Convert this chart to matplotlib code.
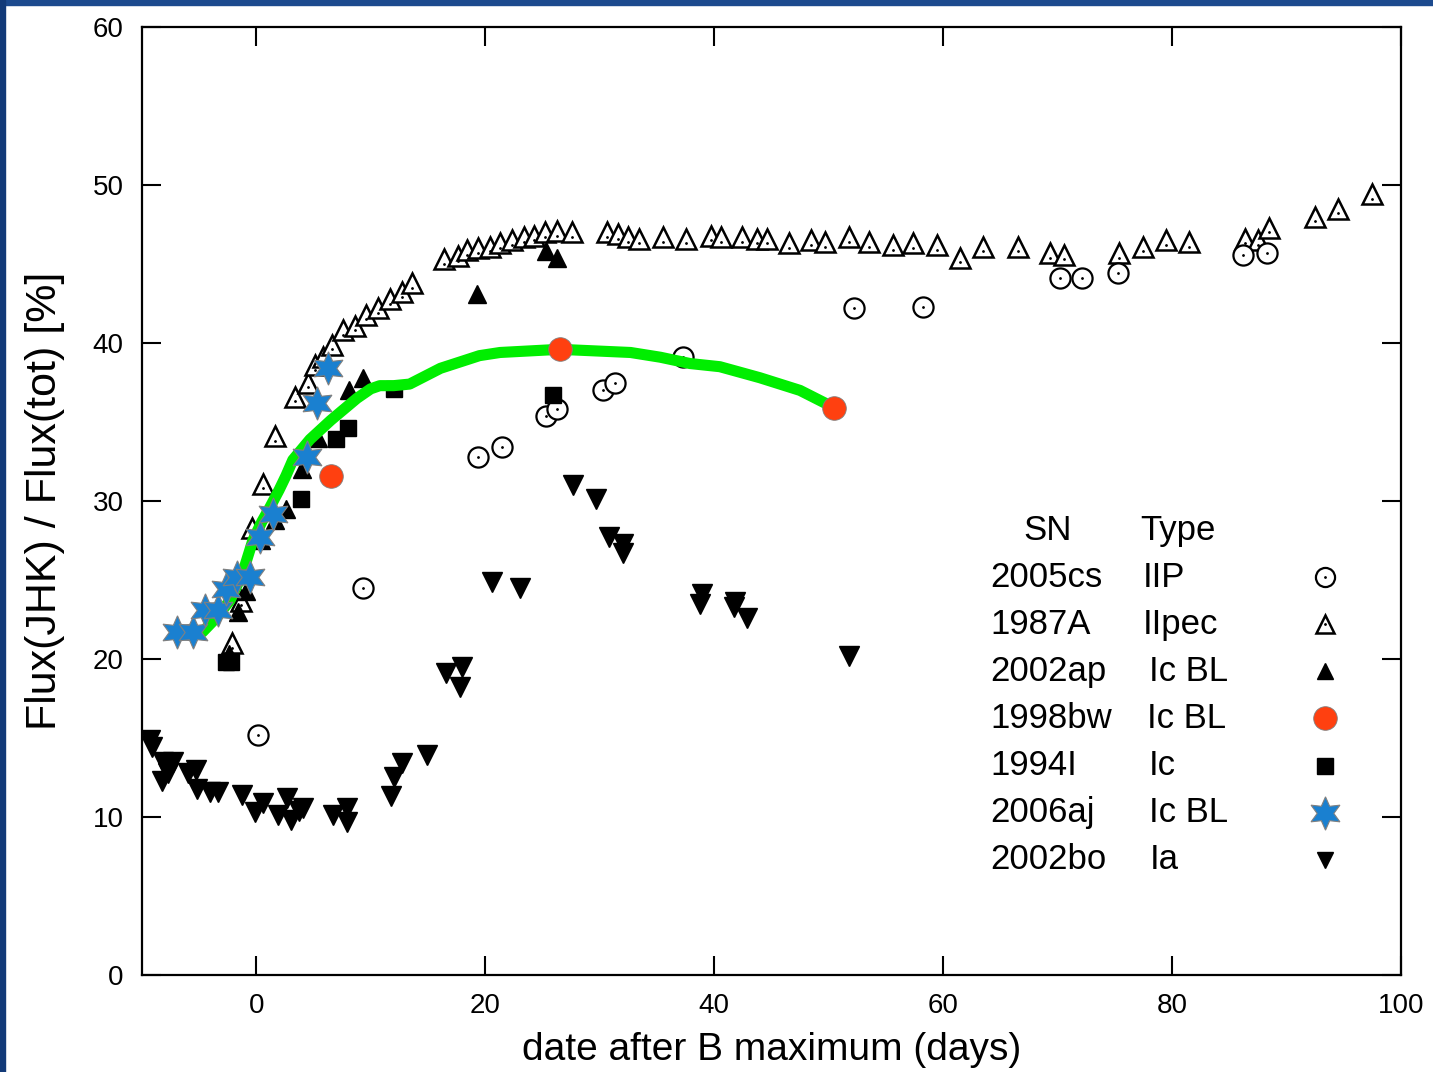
import numpy as np
import matplotlib.pyplot as plt
from matplotlib.patches import Rectangle

plt.rcParams['font.family'] = ['Liberation Sans', 'DejaVu Sans']

# SN 2005cs (IIP)
cs_x = [0.2, 9.3, 19.4, 21.5, 25.3, 26.3, 30.3, 31.3, 37.3, 52.2, 58.2, 70.2, 72.1, 75.3, 86.2, 88.3]
cs_y = [15.2, 24.5, 32.8, 33.4, 35.4, 35.8, 37.0, 37.5, 39.1, 42.2, 42.3, 44.1, 44.1, 44.4, 45.6, 45.7]

# SN 1987A (IIpec)
a87_x = [-2.1, -1.3, -0.4, 0.6, 1.6, 3.4, 4.5, 5.1, 5.8, 6.6, 7.6, 8.6, 9.6, 10.6, 11.7, 12.7, 13.6,
         16.4, 17.6, 18.4, 19.4, 20.4, 21.3, 22.3, 23.4, 24.3, 25.2, 26.3, 27.6, 30.6, 31.6, 32.5, 33.4,
         35.5, 37.5, 39.7, 40.6, 42.4, 43.7, 44.6, 46.5, 48.5, 49.7, 51.8, 53.5, 55.6, 57.4, 59.5, 61.5,
         63.5, 66.5, 69.3, 70.6, 75.4, 77.5, 79.5, 81.5, 86.4, 87.5, 88.5, 92.5, 94.5, 97.5]
a87_y = [21.0, 23.7, 28.3, 31.1, 34.1, 36.6, 37.5, 38.6, 39.1, 39.9, 40.8, 41.1, 41.8, 42.2, 42.8, 43.2, 43.8,
         45.3, 45.5, 45.9, 46.0, 46.1, 46.3, 46.5, 46.7, 46.8, 47.0, 47.1, 47.0, 47.0, 46.9, 46.7, 46.6,
         46.7, 46.6, 46.8, 46.7, 46.7, 46.6, 46.6, 46.3, 46.5, 46.4, 46.7, 46.4, 46.2, 46.3, 46.2, 45.4,
         46.1, 46.1, 45.7, 45.6, 45.7, 46.1, 46.5, 46.4, 46.6, 46.5, 47.3, 48.0, 48.5, 49.4]

# SN 2002ap (Ic BL)
ap_x = [-2.4, -1.6, -0.9, 0.4, 1.6, 2.6, 4.0, 5.4, 8.1, 9.3, 19.3, 25.3, 26.3]
ap_y = [20.3, 23.0, 24.3, 27.5, 28.8, 29.5, 32.0, 34.0, 37.0, 37.8, 43.1, 45.8, 45.4]

# SN 1998bw (Ic BL)
bw_x = [6.5, 26.5, 50.5]
bw_y = [31.6, 39.6, 35.9]

# smooth curve through 1998bw
curve_x = [-4.7, -3.5, -2.3, -1.2, -0.3, 0.5, 1.2, 2.0, 2.6, 3.2, 4.7, 6.5, 8.8, 10.0, 10.8, 12.0,
           13.4, 16.1, 19.5, 21.3, 23.9, 26.5, 32.7, 35.3, 37.9, 40.5, 44.0, 47.5, 50.5]
curve_y = [21.7, 22.6, 23.7, 25.4, 27.5, 28.7, 29.6, 30.7, 31.6, 32.6, 33.9, 35.1, 36.5, 37.1, 37.3, 37.3,
           37.4, 38.4, 39.2, 39.4, 39.5, 39.6, 39.4, 39.1, 38.7, 38.5, 37.8, 37.0, 35.9]

# SN 1994I (Ic)
i94_x = [-2.6, -2.2, 3.9, 7.0, 8.0, 12.0, 25.9]
i94_y = [19.8, 19.8, 30.1, 33.9, 34.6, 37.1, 36.7]

# SN 2006aj (Ic BL)
aj_x = [-6.9, -5.5, -4.5, -3.3, -2.6, -1.7, -0.5, 0.3, 1.5, 4.4, 5.3, 6.3]
aj_y = [21.7, 21.7, 23.1, 23.1, 24.4, 25.2, 25.2, 27.7, 29.2, 32.8, 36.2, 38.4]

# SN 2002bo (Ia)
bo_x = [-9.3, -9.1, -8.1, -7.3, -8.2, -7.7, -6.0, -5.3, -5.2, -4.0, -3.3, -1.2, -0.1, 0.6, 1.9,
        2.7, 3.0, 3.7, 4.1, 6.7, 7.9, 7.9, 11.8, 12.0, 12.7, 14.9, 16.6, 18.0, 17.8, 20.6, 23.0,
        27.7, 29.7, 30.8, 32.0, 32.0, 38.9, 38.8, 41.8, 41.7, 42.9, 51.8]
bo_y = [14.9, 14.4, 13.5, 13.5, 12.3, 12.8, 12.8, 13.0, 11.8, 11.6, 11.6, 11.4, 10.3, 10.9, 10.1,
        11.2, 9.8, 10.4, 10.6, 10.1, 10.6, 9.7, 11.3, 12.5, 13.4, 13.9, 19.1, 19.5, 18.2, 24.9, 24.5,
        31.0, 30.1, 27.7, 27.3, 26.7, 24.1, 23.5, 23.6, 23.3, 22.6, 20.2]

sn_names = ['2005cs', '1987A', '2002ap', '1998bw', '1994I', '2006aj', '2002bo']
sn_types = ['IIP', 'IIpec', 'Ic BL', 'Ic BL', 'Ic', 'Ic BL', 'Ia']

star_color = '#1a80d0'
red_color = '#ff4010'
green_color = '#00ee00'

# styles for each SN (used for data and legend keys)
styles = [
    dict(marker='o', ms=14.5, mfc='white', mec='black', mew=1.6),
    dict(marker='^', ms=14, mfc='white', mec='black', mew=1.8),
    dict(marker='^', ms=13, mfc='black', mec='black', mew=1),
    dict(marker='o', ms=17, mfc=red_color, mec='grey', mew=0.6),
    dict(marker='s', ms=12, mfc='black', mec='black', mew=1),
    dict(marker=(6, 1, 0), ms=24, mfc=star_color, mec='grey', mew=0.8),
    dict(marker='v', ms=14, mfc='black', mec='black', mew=1),
]
key_scale = [0.95, 0.9, 0.9, 1.0, 0.95, 1.0, 0.85]

fig = plt.figure(figsize=(14.33, 10.72), dpi=100)
ax = fig.add_axes([0.0989, 0.0905, 0.8788, 0.8843])

ax.plot(a87_x, a87_y, ls='none', zorder=3, **styles[1])
ax.plot(a87_x, np.array(a87_y) - 0.3, ls='none', marker='.', ms=2, color='black', zorder=3)
ax.plot(cs_x, cs_y, ls='none', zorder=3, **styles[0])
ax.plot(cs_x, cs_y, ls='none', marker='.', ms=2, color='black', zorder=3)
ax.plot(ap_x, ap_y, ls='none', zorder=3, **styles[2])
ax.plot(i94_x, i94_y, ls='none', zorder=3, **styles[4])
ax.plot(bo_x, bo_y, ls='none', zorder=3, **styles[6])
ax.plot(curve_x, curve_y, color=green_color, lw=8, solid_capstyle='round',
        solid_joinstyle='round', zorder=4)
ax.plot(bw_x, bw_y, ls='none', zorder=5, **styles[3])
ax.plot(aj_x, aj_y, ls='none', zorder=6, **styles[5])

ax.set_xlim(-10, 100)
ax.set_ylim(0, 60)
ax.set_xticks([0, 20, 40, 60, 80, 100])
ax.set_yticks([0, 10, 20, 30, 40, 50, 60])
ax.tick_params(direction='in', length=14, width=1.5, top=True, right=True, labelsize=20)
ax.tick_params(axis='x', pad=13)
ax.tick_params(axis='y', pad=13)
for s in ax.spines.values():
    s.set_linewidth(1.6)

ax.set_xlabel('date after B maximum (days)', fontsize=28, labelpad=9)
ax.set_ylabel('Flux(JHK) / Flux(tot) [%]', fontsize=31, labelpad=20)

# table-like legend
col_sn, col_key = 0.6736, 0.9397
type_cols = [0.7951, 0.7951, 0.7995, 0.7985, 0.7995, 0.7995, 0.8005]
row0, drow = 0.4694, 0.0497
ax.text(0.7197, row0, 'SN', transform=ax.transAxes, fontsize=25, ha='center', va='center')
ax.text(0.823, row0, 'Type', transform=ax.transAxes, fontsize=25, ha='center', va='center')
for i, (name, typ) in enumerate(zip(sn_names, sn_types)):
    yy = row0 - (i + 1) * drow
    ax.text(col_sn, yy, name, transform=ax.transAxes, fontsize=25, ha='left', va='center')
    ax.text(type_cols[i], yy, typ, transform=ax.transAxes, fontsize=25, ha='left', va='center')
    st = dict(styles[i])
    st['ms'] = st['ms'] * key_scale[i]
    ax.plot([col_key], [yy], transform=ax.transAxes, ls='none', clip_on=False, zorder=6, **st)
    if i in (0, 1):
        ax.plot([col_key], [yy], transform=ax.transAxes, ls='none', marker='.', ms=2,
                color='black', clip_on=False, zorder=6)

# slide frame
fig.patches.append(Rectangle((0, 0.9955), 1, 0.0045, transform=fig.transFigure,
                             color='#1c4a8e', zorder=10))
fig.patches.append(Rectangle((0, 0), 0.0035, 1, transform=fig.transFigure,
                             color='#123a78', zorder=10))

plt.savefig('out.png', dpi=100)
